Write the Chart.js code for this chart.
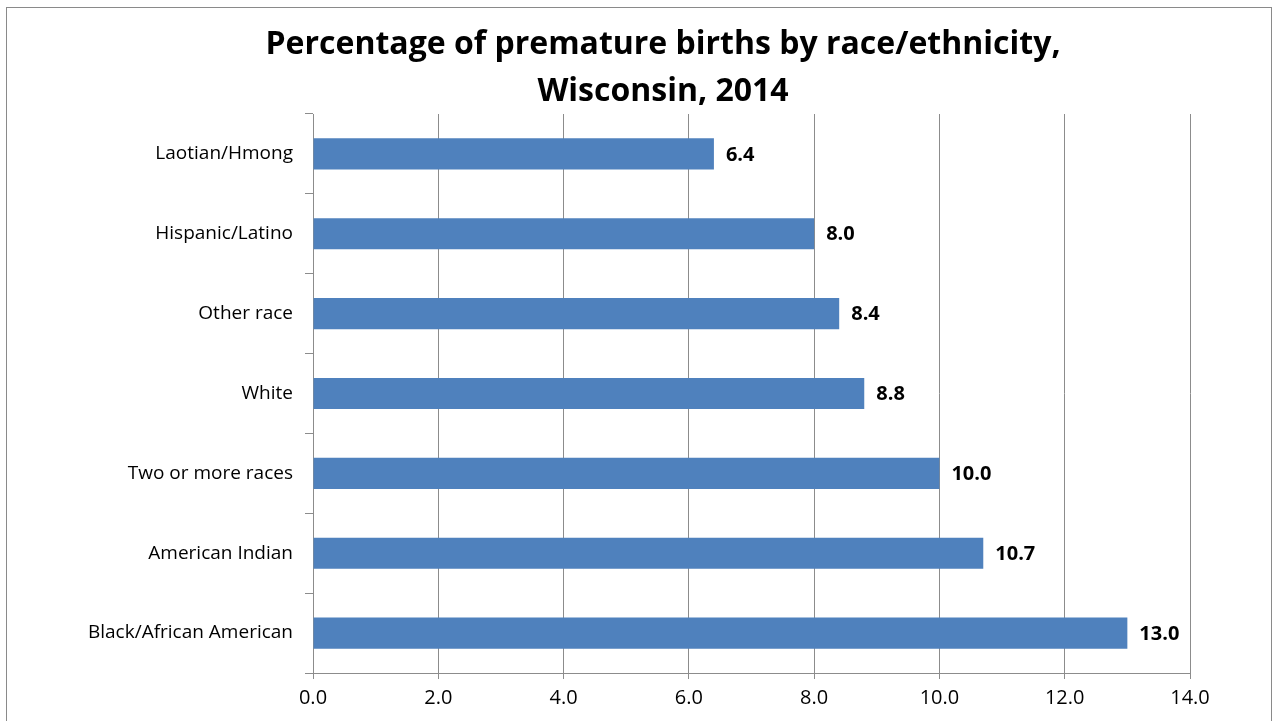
<!DOCTYPE html>
<html>
<head>
<meta charset="utf-8">
<script src="https://cdn.jsdelivr.net/npm/chart.js@4"></script>
<style>
  html, body { margin: 0; padding: 0; background: #fff; }
  #wrap { width: 1274px; height: 721px; position: relative; }
</style>
</head>
<body>
<div id="wrap"><canvas id="myChart" width="1274" height="721"></canvas></div>
<script>
const categories = ['Laotian/Hmong', 'Hispanic/Latino', 'Other race', 'White', 'Two or more races', 'American Indian', 'Black/African American'];
const values = [6.4, 8.0, 8.4, 8.8, 10.0, 10.7, 13.0];
const titleLines = ['Percentage of premature births by race/ethnicity,', 'Wisconsin, 2014'];

const FONT = '"Open Sans", sans-serif';

// white background + frame round the whole chart
const framePlugin = {
    id: 'frame',
    beforeDraw(chart) {
        const ctx = chart.ctx;
        ctx.save();
        ctx.fillStyle = '#fff';
        ctx.fillRect(0, 0, chart.width, chart.height);
        ctx.strokeStyle = '#8a8a8a';
        ctx.lineWidth = 1;
        ctx.strokeRect(6.5, 7.5, 1265, 720);
        ctx.restore();
    }
};

// title drawn by hand so it can sit centred on the frame, not the plot
const titlePlugin = {
    id: 'bigTitle',
    afterDraw(chart) {
        const ctx = chart.ctx;
        ctx.save();
        ctx.font = 'bold 32px ' + FONT;
        ctx.fillStyle = '#000';
        ctx.textAlign = 'center';
        ctx.textBaseline = 'middle';
        titleLines.forEach((line, i) => {
            ctx.fillText(line, 663, 45 + i * 47);
        });
        ctx.restore();
    }
};

// value labels at the end of each bar
const valueLabels = {
    id: 'valueLabels',
    afterDatasetsDraw(chart) {
        const ctx = chart.ctx;
        const meta = chart.getDatasetMeta(0);
        ctx.save();
        ctx.font = 'bold 20px ' + FONT;
        ctx.fillStyle = '#000';
        ctx.textBaseline = 'middle';
        ctx.textAlign = 'left';
        meta.data.forEach((bar, i) => {
            ctx.fillText(values[i].toFixed(1), bar.x + 12, bar.y + 1);
        });
        ctx.restore();
    }
};

const ctx = document.getElementById('myChart').getContext('2d');
const myChart = new Chart(ctx, {
    type: 'bar',
    data: {
        labels: categories,
        datasets: [{
            data: values,
            backgroundColor: '#4f81bd',
            borderWidth: 0,
            categoryPercentage: 1,
            barPercentage: 0.39
        }]
    },
    options: {
        indexAxis: 'y',
        responsive: false,
        animation: false,
        layout: {
            padding: { left: 0, right: 84, top: 114, bottom: 0 }
        },
        plugins: {
            legend: { display: false },
            tooltip: { enabled: false },
            title: { display: false }
        },
        scales: {
            x: {
                min: 0,
                max: 14,
                ticks: {
                    stepSize: 2,
                    color: '#000',
                    font: { family: FONT, size: 20 },
                    padding: 7,
                    callback: v => v.toFixed(1)
                },
                grid: {
                    color: '#8c8c8c',
                    tickLength: 6,
                    drawOnChartArea: true
                },
                border: { color: '#8c8c8c' },
                afterFit: scale => { scale.height = 48; }
            },
            y: {
                ticks: {
                    color: '#000',
                    font: { family: FONT, size: 19 },
                    padding: 12
                },
                grid: {
                    color: '#8c8c8c',
                    tickLength: 8,
                    drawOnChartArea: false,
                    offset: true
                },
                border: { color: '#8c8c8c' },
                afterFit: scale => { scale.width = 313; }
            }
        }
    },
    plugins: [framePlugin, titlePlugin, valueLabels]
});
</script>
</body>
</html>
